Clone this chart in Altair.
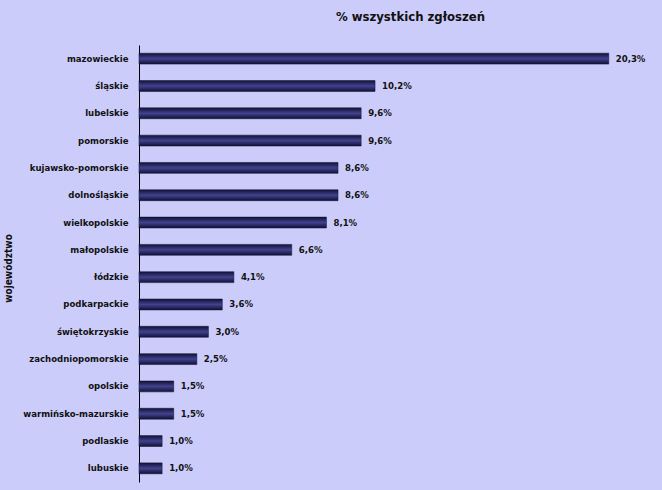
import altair as alt
import pandas as pd

regions = ["mazowieckie", "śląskie", "lubelskie", "pomorskie", "kujawsko-pomorskie",
           "dolnośląskie", "wielkopolskie", "małopolskie", "łódzkie", "podkarpackie",
           "świętokrzyskie", "zachodniopomorskie", "opolskie", "warmińsko-mazurskie",
           "podlaskie", "lubuskie"]
values = [20.3, 10.2, 9.6, 9.6, 8.6, 8.6, 8.1, 6.6, 4.1, 3.6, 3.0, 2.5, 1.5, 1.5, 1.0, 1.0]

df = pd.DataFrame({"woj": regions, "val": values})
df["label"] = [f"{v:.1f}".replace(".", ",") + "%" for v in values]

FONT = "Liberation Sans Narrow, DejaVu Sans Condensed, Arial Narrow, sans-serif"

y_enc = alt.Y("woj:N", sort=regions,
              scale=alt.Scale(paddingInner=0.6, paddingOuter=0.3),
              axis=alt.Axis(title="województwo", ticks=False, grid=False,
                            domainColor="black", domainWidth=1,
                            labelFont=FONT, labelFontSize=9.5, labelFontWeight="bold",
                            labelColor="#111", labelPadding=11,
                            titleFont=FONT, titleFontSize=10, titleFontWeight="bold",
                            titleColor="#111", titleX=-131, titleY=223, titleAngle=270,
                            titleAlign="center", titleBaseline="middle"))
x_enc = alt.X("val:Q", scale=alt.Scale(domain=[0, 22.6], nice=False), axis=None)

grad = alt.Gradient(gradient="linear", x1=0, x2=0, y1=0, y2=1,
                    stops=[alt.GradientStop(offset=0, color="#111135"),
                           alt.GradientStop(offset=0.5, color="#42428f"),
                           alt.GradientStop(offset=1, color="#111135")])

bars = alt.Chart(df).mark_bar(color=grad, stroke="#111135", strokeWidth=0.5).encode(
    y=y_enc, x=x_enc)

texts = alt.Chart(df).mark_text(align="left", baseline="middle", dx=7,
                                font=FONT, fontSize=9.5, fontWeight="bold",
                                color="#111").encode(
    y=alt.Y("woj:N", sort=regions), x="val:Q", text="label:N")

chart = (bars + texts).properties(
    width=523, height=437,
    title=alt.TitleParams("% wszystkich zgłoszeń", font=FONT, fontSize=13,
                          fontWeight="bold", color="#111", anchor="middle",
                          dx=10, offset=21),
    background="#ccccfa",
    padding={"left": 139, "top": 45, "right": 0, "bottom": 8},
    autosize=alt.AutoSizeParams(type="none"),
).configure_view(stroke=None)

chart.save("out.html", embed_options={"renderer": "svg", "actions": False})
